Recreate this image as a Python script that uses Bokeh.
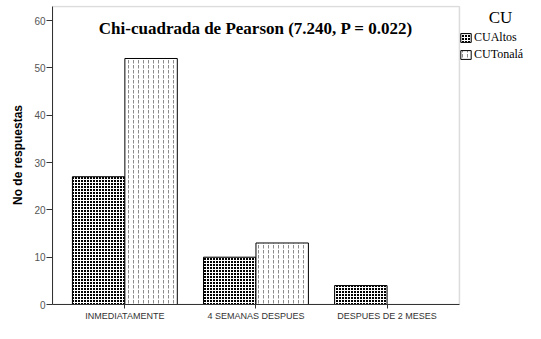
from bokeh.plotting import figure
from bokeh.models import Range1d, Label, Legend, LegendItem, ColumnDataSource, BoxAnnotation
from bokeh.transform import dodge
from bokeh.embed import file_html
from bokeh.resources import INLINE

categories = ["INMEDIATAMENTE", "4 SEMANAS DESPUES", "DESPUES DE 2 MESES"]
cu_altos = [27, 10, 4]
cu_tonala = [52, 13, 0]
series_names = ["CUAltos", "CUTonalá"]
y_ticks = [0, 10, 20, 30, 40, 50, 60]
title_text = "Chi-cuadrada de Pearson (7.240, P = 0.022)"
legend_title = "CU"
y_label = "No de respuestas"

x_idx = list(range(len(categories)))
src = ColumnDataSource(dict(x=x_idx, altos=cu_altos, tonala=cu_tonala))

x_pad = 0.552
y_top = 63.0
p = figure(width=525, height=323, output_backend="svg", toolbar_location=None,
           x_range=Range1d(-x_pad, 3.056), y_range=Range1d(0, y_top + 0.2),
           min_border_left=52, min_border_right=0, min_border_top=5, min_border_bottom=0)
p.xgrid.visible = False
p.ygrid.visible = False
p.outline_line_color = None
p.background_fill_color = "white"
p.border_fill_color = "white"

# plot box (gray border on top/right like the original)
p.add_layout(BoxAnnotation(left=-x_pad, right=len(categories) - 1 + x_pad, bottom=0, top=y_top,
                           fill_alpha=0, line_color="#8a8a8a", line_width=1.5, level="underlay"))

r1 = p.vbar(x=dodge("x", -0.2), top="altos", width=0.4, source=src,
            fill_color="black", line_color="black", line_width=1,
            hatch_pattern="+", hatch_color="white", hatch_scale=3, hatch_weight=1)
r2 = p.vbar(x=dodge("x", 0.2), top="tonala", width=0.4, source=src,
            fill_color="white", line_color="black", line_width=1,
            hatch_pattern=":", hatch_color="#8c8c8c", hatch_scale=5, hatch_weight=1)

# axes
p.yaxis.ticker = y_ticks
p.yaxis.axis_label = y_label
p.yaxis.axis_label_text_font = "Liberation Sans"
p.yaxis.axis_label_text_font_style = "bold"
p.yaxis.axis_label_text_font_size = "12px"
p.yaxis.axis_label_text_color = "black"
p.yaxis.axis_label_standoff = 6
p.yaxis.major_label_text_font = "Liberation Sans"
p.yaxis.major_label_text_font_size = "10px"
p.yaxis.major_label_text_color = "#555555"
p.yaxis.major_tick_out = 6
p.yaxis.major_tick_in = 0
p.yaxis.minor_tick_out = 0
p.yaxis.minor_tick_in = 0
p.yaxis.major_label_standoff = 1
p.yaxis.axis_line_color = "#333333"
p.yaxis.major_tick_line_color = "#333333"
p.yaxis.bounds = (0, y_top)

p.xaxis.ticker = x_idx
p.xaxis.major_label_overrides = {i: c for i, c in enumerate(categories)}
p.xaxis.bounds = (-x_pad, len(categories) - 1 + x_pad)
p.xaxis.major_label_text_font = "Liberation Sans"
p.xaxis.major_label_text_font_size = "9px"
p.xaxis.major_label_text_color = "#333333"
p.xaxis.major_tick_out = 4
p.xaxis.major_tick_in = 0
p.xaxis.minor_tick_out = 0
p.xaxis.minor_tick_in = 0
p.xaxis.major_label_standoff = 2
p.xaxis.axis_line_color = "#333333"
p.xaxis.major_tick_line_color = "#333333"

# chart title inside plot box
p.add_layout(Label(x=1.0, y=58.4, text=title_text, text_align="center", text_baseline="middle",
                   text_font="Liberation Serif", text_font_style="bold", text_font_size="17px",
                   text_color="black"))
# legend title
p.add_layout(Label(x=2.865, y=60.7, text=legend_title, text_align="center", text_baseline="middle",
                   text_font="Liberation Serif", text_font_size="17px", text_color="black"))

legend = Legend(items=[LegendItem(label=series_names[0], renderers=[r1]),
                       LegendItem(label=series_names[1], renderers=[r2])],
                location=(407, 242), margin=0, padding=3, spacing=2,
                glyph_width=13, glyph_height=11, label_height=11, label_standoff=2,
                label_text_font="Liberation Serif", label_text_font_size="12px",
                label_text_color="black", border_line_color=None, background_fill_alpha=0)
p.add_layout(legend, "center")

open("out.html", "w").write(file_html(p, INLINE))
